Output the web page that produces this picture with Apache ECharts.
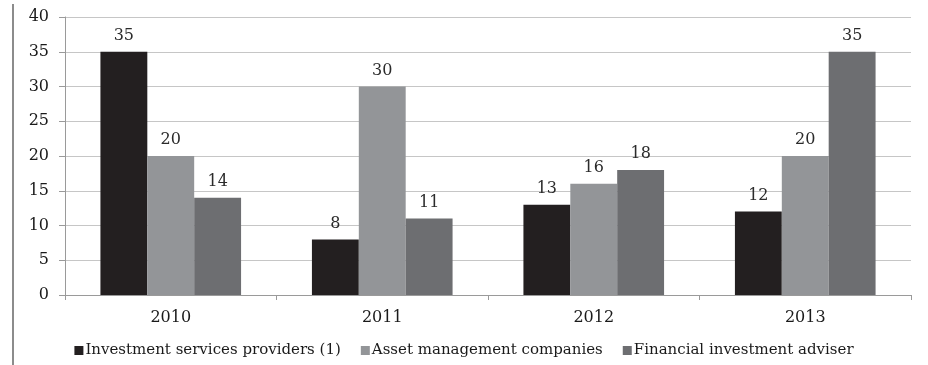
<!DOCTYPE html>
<html>
<head>
<meta charset="utf-8">
<title>Entities by year</title>
<script src="https://cdn.jsdelivr.net/npm/echarts@6/dist/echarts.min.js"></script>
<style>
  html, body { margin: 0; padding: 0; background: #ffffff; }
  #chart { width: 928px; height: 365px; }
</style>
</head>
<body>
<div id="chart"></div>
<script>
// Categories and series values
const years = ['2010', '2011', '2012', '2013'];
const seriesNames = [
  'Investment services providers (1)',
  'Asset management companies',
  'Financial investment adviser'
];
const providers = [35, 8, 13, 12];
const assetManagers = [20, 30, 16, 20];
const advisers = [14, 11, 18, 35];
const yTicks = { min: 0, max: 40, step: 5 };

const colors = ['#231f20', '#939598', '#6d6e71'];
const serif = '"DejaVu Serif", "Liberation Serif", serif';

const chart = echarts.init(document.getElementById('chart'), null, { renderer: 'canvas' });

function barSeries(name, data, color) {
  return {
    name: name,
    type: 'bar',
    data: data,
    barGap: '0%',
    barCategoryGap: '33.5%',
    itemStyle: { color: color },
    label: {
      show: true,
      position: 'top',
      distance: 8,
      color: '#2b2b2b',
      fontFamily: serif,
      fontSize: 16
    },
    emphasis: { disabled: true }
  };
}

chart.setOption({
  animation: false,
  backgroundColor: '#ffffff',
  color: colors,
  grid: { left: 65, right: 17, top: 17, bottom: 70, containLabel: false },
  xAxis: {
    type: 'category',
    data: years,
    axisLine: { lineStyle: { color: '#9a9a9a', width: 1 } },
    axisTick: { show: true, length: 5, lineStyle: { color: '#9a9a9a' } },
    axisLabel: { color: '#1a1a1a', fontFamily: serif, fontSize: 16, margin: 15 }
  },
  yAxis: {
    type: 'value',
    min: yTicks.min,
    max: yTicks.max,
    interval: yTicks.step,
    axisLine: { show: true, lineStyle: { color: '#9a9a9a', width: 1 } },
    axisTick: { show: true, length: 6, lineStyle: { color: '#9a9a9a' } },
    splitLine: { lineStyle: { color: '#c6c6c6', width: 1 } },
    axisLabel: { color: '#1a1a1a', fontFamily: serif, fontSize: 16, margin: 16 }
  },
  legend: {
    bottom: 2,
    left: 'center',
    itemWidth: 9,
    itemHeight: 9,
    itemGap: 20,
    icon: 'rect',
    textStyle: { color: '#1a1a1a', fontFamily: serif, fontSize: 15, padding: [0, 0, 0, -3] },
    data: seriesNames
  },
  graphic: [{
    type: 'rect',
    left: 12,
    top: 4,
    shape: { width: 2, height: 361 },
    style: { fill: '#8c8c8c' },
    silent: true
  }],
  series: [
    barSeries(seriesNames[0], providers, colors[0]),
    barSeries(seriesNames[1], assetManagers, colors[1]),
    barSeries(seriesNames[2], advisers, colors[2])
  ]
});
</script>
</body>
</html>
